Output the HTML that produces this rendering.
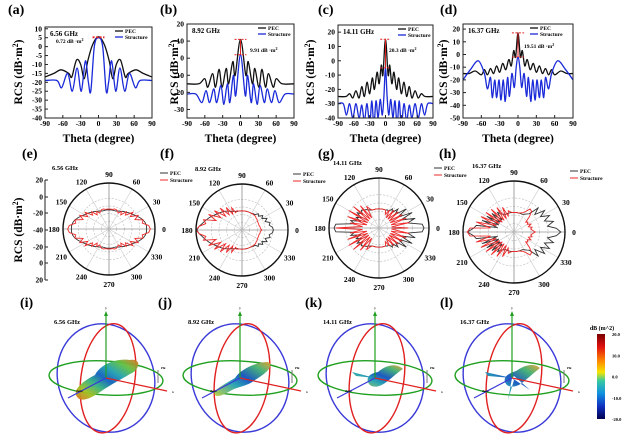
<!DOCTYPE html>
<html><head><meta charset="utf-8">
<style>
html,body{margin:0;padding:0;background:#fff;}
svg{display:block;font-family:"Liberation Serif",serif;font-weight:bold;}
</style></head>
<body>
<svg id="fig" width="639" height="442" viewBox="0 0 639 442" xmlns="http://www.w3.org/2000/svg">
<defs>
<linearGradient id="cbar" x1="0" y1="0" x2="0" y2="1">
<stop offset="0" stop-color="#7a0000"/><stop offset="0.15" stop-color="#e01010"/><stop offset="0.32" stop-color="#ff8a00"/><stop offset="0.45" stop-color="#f5e400"/><stop offset="0.55" stop-color="#38c9a0"/><stop offset="0.7" stop-color="#1090e0"/><stop offset="0.85" stop-color="#1030c0"/><stop offset="1" stop-color="#000050"/>
</linearGradient>
<linearGradient id="blobA" x1="0" y1="1" x2="1" y2="0">
<stop offset="0" stop-color="#e07020"/><stop offset="0.18" stop-color="#a0c020"/><stop offset="0.35" stop-color="#30b080"/><stop offset="0.5" stop-color="#1060c0"/><stop offset="0.65" stop-color="#20a0b0"/><stop offset="0.82" stop-color="#60c040"/><stop offset="1" stop-color="#e07020"/>
</linearGradient>
<linearGradient id="blobB" x1="0" y1="1" x2="1" y2="0">
<stop offset="0" stop-color="#c0d040"/><stop offset="0.35" stop-color="#20a0b0"/><stop offset="0.55" stop-color="#1050c0"/><stop offset="0.8" stop-color="#40b070"/><stop offset="1" stop-color="#e8a030"/>
</linearGradient>
</defs>
</svg>
<script>
// ---- data: top row (theta, dB) vertex pairs ----
const thetaTicks=[-90,-60,-30,0,30,60,90];
const aTicks=[10,5,0,-5,-10,-15,-20,-25,-30,-35,-40];
const bTicks=[20,10,0,-10,-20,-30];
const cTicks=[20,10,0,-10,-20,-30,-40];
const dTicks=[20,10,0,-10,-20,-30,-40,-50];
const aPECx=[-90,-75,-63,-50,-45,-37,-30,-24,-18,-10,0,10,18,24,30,37,45,50,63,75,90];
const aPECy=[-17,-15,-13,-15,-17,-7.5,-10,-18,-8,1,5.5,1,-8,-18,-10,-7.5,-17,-15,-13,-15,-17];
const aSTRx=[-90,-70,-62,-52,-44,-36,-29,-22,-17,-13,-7,0,7,13,17,22,29,36,44,52,62,70,90];
const aSTRy=[-19,-19,-23,-15,-25,-12,-25,-8,-20,-25,0,5,0,-25,-20,-8,-25,-12,-25,-15,-23,-19,-19];
const bPECx=[-90,-70,-60,-55,-47,-42,-36,-31,-24,-20,-13,-9,0,9,13,20,24,31,36,42,47,55,60,70,90];
const bPECy=[-15,-15,-12,-17,-9,-17,-6.5,-17,-6,-15,-2,-10,11,-10,-2,-15,-6,-17,-6.5,-17,-9,-17,-12,-15,-15];
const bSTRx=[-90,-75,-65,-58,-52,-45,-40,-33,-28,-22,-18,-12,-8,0,8,12,18,22,28,33,40,45,52,58,65,75,90];
const bSTRy=[-21,-21,-26,-19,-26,-18,-26,-16,-27,-15,-26,-10,-22,2,-22,-10,-26,-15,-27,-16,-26,-18,-26,-19,-26,-21,-21];
const cPECx=[-90,-75,-68,-62,-56,-50,-45,-40,-35,-30,-25,-21,-16,-12,-8,-5,0,5,8,12,16,21,25,30,35,40,45,50,56,62,68,75,90];
const cPECy=[-25,-25,-23,-26,-21,-26,-18,-25,-15,-23,-12,-20,-8,-16,-3,-10,15,-10,-3,-16,-8,-20,-12,-23,-15,-25,-18,-26,-21,-26,-23,-25,-25];
const cSTRx=[-90,-80,-74,-68,-62,-56,-50,-45,-40,-35,-30,-26,-22,-18,-14,-10,-6,-3,0,3,6,10,14,18,22,26,30,35,40,45,50,56,62,68,74,80,90];
const cSTRy=[-30,-30,-38,-30,-40,-30,-40,-31,-42,-30,-45,-28,-45,-28,-40,-27,-38,-25,-5,-25,-38,-27,-40,-28,-45,-28,-45,-30,-42,-31,-40,-30,-40,-30,-38,-30,-30];
const dPECx=[-90,-80,-70,-60,-55,-50,-45,-40,-35,-30,-25,-20,-15,-11,-7,-4,0,4,7,11,15,20,25,30,35,40,45,50,55,60,70,80,90];
const dPECy=[-15,-15,-13,-16,-12,-16,-11,-15,-9,-14,-7,-12,-4,-9,3,-2,17,-2,3,-9,-4,-12,-7,-14,-9,-15,-11,-16,-12,-16,-13,-15,-15];
const dSTRx=[-90,-78,-65,-55,-50,-45,-42,-38,-35,-31,-28,-24,-21,-17,-14,-10,-6,-3,0,3,6,10,14,17,21,24,28,31,35,38,42,45,50,55,65,78,90];
const dSTRy=[-20,-12,-5,-15,-27,-18,-34,-20,-34,-20,-36,-20,-37,-18,-33,-15,-26,-10,-2,-10,-26,-15,-33,-18,-37,-20,-36,-20,-34,-20,-34,-18,-27,-15,-5,-12,-20];
// ---- data: polar row, dB at angles 0..180 step 5 (mirrored below) ----
const polarTicks=[20,0,-20,-40];
const angleLabels=[0,30,60,90,120,150,180,210,240,270,300,330];
const ePEC=[9,9,8,6,3,0,-3,-5,-7,-9,-10,-12,-13,-14,-15,-15,-15,-15,-15,-15,-15,-15,-15,-14,-13,-12,-10,-9,-7,-5,-3,0,3,6,8,9,9];
const eSTR=[14,12,4,6,-4,2,-8,-2,-12,-8,-16,-12,-16,-14,-13,-13,-14,-14,-14,-14,-14,-13,-13,-14,-16,-12,-16,-8,-12,-2,-8,2,-4,6,4,12,14];
const fPEC=[1,0,-4,-2,-8,-4,-10,-7,-12,-10,-14,-14,-15,-15,-15,-15,-15,-15,-15,-15,-15,-15,-14,-13,-12,-10,-8,-6,-4,-2,0,3,6,9,12,16,19];
const fSTR=[-14,-16,-16,-17,-17,-17,-17,-16,-16,-15,-15,-15,-15,-15,-15,-15,-15,-15,-15,-15,-15,-14,-16,-8,-16,-4,-14,0,-12,4,-8,8,-4,12,8,16,20];
const gPEC=[14,12,-5,5,-12,4,-14,0,-15,-8,-16,-12,-17,-16,-17,-17,-17,-17,-17,-17,-17,-17,-17,-16,-15,-13,-12,-10,-14,-8,-15,-10,-16,-5,-10,12,14];
const gSTR=[-5,-25,-3,-25,-5,-25,-8,-25,-10,-25,-12,-25,-15,-22,-17,-17,-17,-17,-17,-17,-17,-17,-17,-15,-10,-25,-5,-25,0,-25,2,-25,0,-25,-5,-20,12];
const hPEC=[15,10,0,8,-2,6,-4,4,-8,0,-12,-14,-16,-17,-17,-17,-17,-17,-17,-17,-17,-17,-17,-17,-16,-14,-10,-20,-6,-20,-3,-20,0,-20,5,8,15];
const hSTR=[-15,-18,-20,-18,-22,-18,-22,-20,-22,-14,-8,-7,-12,-15,-16,-17,-17,-17,-17,-17,-16,-14,-20,-8,-22,-5,-22,-2,-22,0,-20,3,-18,6,-12,12,15];
// ---- colorbar ticks ----
const cbarTicks=[20,10,0,-10,-20];

const NS="http://www.w3.org/2000/svg";
const fig=document.getElementById('fig');
function el(tag,attrs,parent,txt){const e=document.createElementNS(NS,tag);for(const k in attrs)e.setAttribute(k,attrs[k]);if(txt!==undefined)e.textContent=txt;(parent||fig).appendChild(e);return e;}
function smoothPath(pts){let d='M'+pts[0][0].toFixed(1)+','+pts[0][1].toFixed(1);
 for(let i=0;i<pts.length-1;i++){const p0=pts[Math.max(0,i-1)],p1=pts[i],p2=pts[i+1],p3=pts[Math.min(pts.length-1,i+2)];
  const c1=[p1[0]+(p2[0]-p0[0])/6,p1[1]+(p2[1]-p0[1])/6],c2=[p2[0]-(p3[0]-p1[0])/6,p2[1]-(p3[1]-p1[1])/6];
  d+=' C'+c1[0].toFixed(1)+','+c1[1].toFixed(1)+' '+c2[0].toFixed(1)+','+c2[1].toFixed(1)+' '+p2[0].toFixed(1)+','+p2[1].toFixed(1);}
 return d;}

function lineChart(cfg){
 const g=el('g',{});
 
 
 const sx=t=>cfg.x0+(t+90)/180*(cfg.x1-cfg.x0);
 const sy=v=>cfg.y0+(cfg.ymax-v)/(cfg.ymax-cfg.ymin)*(cfg.y1-cfg.y0);
 const lab=el('text',{x:cfg.lx,y:14,'font-size':14},g,'('+cfg.id+')');
 
 
 const clip=el('clipPath',{id:'clip'+cfg.id},g);el('rect',{x:cfg.x0,y:cfg.y0,width:cfg.x1-cfg.x0,height:cfg.y1-cfg.y0},clip);
 const lines=el('g',{'clip-path':'url(#clip'+cfg.id+')'},g);
 const mk=(xs,ys,col,name)=>{const p=el('path',{d:smoothPath(xs.map((t,i)=>[sx(t),sy(ys[i])])),fill:'none',stroke:col,'stroke-width':1.3},lines);
  
  };
 mk(cfg.px,cfg.py,'#111','pec-line-'+cfg.id);
 mk(cfg.sxs,cfg.sys,'#1a2ad8','structure-line-'+cfg.id);
 const box=el('rect',{x:cfg.x0,y:cfg.y0,width:cfg.x1-cfg.x0,height:cfg.y1-cfg.y0,fill:'none',stroke:'#222','stroke-width':1},g);
 
 
 cfg.yt.forEach(v=>{const y=sy(v);el('line',{x1:cfg.x0,x2:cfg.x0+3,y1:y,y2:y,stroke:'#222'},g);
  const t=el('text',{x:cfg.x0-3,y:y+2.5,'font-size':7.5,'text-anchor':'end'},g,v);
  
  });
 thetaTicks.forEach(v=>{const x=sx(v);el('line',{x1:x,x2:x,y1:cfg.y1,y2:cfg.y1-3,stroke:'#222'},g);
  const t=el('text',{x:x,y:cfg.y1+8,'font-size':7.5,'text-anchor':'middle'},g,v);
  
  });
 const xt=el('text',{x:(cfg.x0+cfg.x1)/2,y:142,'font-size':11.5,'text-anchor':'middle'},g,'Theta (degree)');
 
 
 const yt=el('text',{x:0,y:0,'font-size':11.5,'text-anchor':'middle',transform:'translate('+cfg.ylx+',72) rotate(-90)'},g);
 yt.innerHTML='RCS (dB·m<tspan dy="-4" font-size="8">2</tspan><tspan dy="4">)</tspan>';
 
 
 const lg=el('g',{},g);
 
 
 el('line',{x1:cfg.legx,x2:cfg.legx+8,y1:cfg.y0+4,y2:cfg.y0+4,stroke:'#111','stroke-width':1.3},lg);
 el('text',{x:cfg.legx+10,y:cfg.y0+6,'font-size':5.5},lg,'PEC');
 el('line',{x1:cfg.legx,x2:cfg.legx+8,y1:cfg.y0+10,y2:cfg.y0+10,stroke:'#1a2ad8','stroke-width':1.3},lg);
 el('text',{x:cfg.legx+10,y:cfg.y0+12,'font-size':5.5},lg,'Structure');
 const fq=el('text',{x:cfg.x0+5,y:cfg.y0+9,'font-size':7},g,cfg.freq);
 
 
 const an=el('text',{x:cfg.ax,y:cfg.ay,'font-size':5.5},g);
 an.innerHTML=cfg.ann+' dB ·m<tspan dy="-2" font-size="4">2</tspan>';
 
 
 const pk=Math.max(...cfg.py), spk=Math.max(...cfg.sys);
 el('line',{x1:sx(-10),x2:sx(10),y1:sy(pk),y2:sy(pk),stroke:'#e02020','stroke-dasharray':'2,1.5'},g);
 el('line',{x1:sx(-10),x2:sx(10),y1:sy(spk),y2:sy(spk),stroke:'#e02020','stroke-dasharray':'2,1.5'},g);
 el('line',{x1:sx(0),x2:sx(0),y1:sy(pk),y2:sy(spk),stroke:'#e02020','stroke-width':1},g);
}
lineChart({id:'a',lx:8,x0:45,x1:152,y0:27,y1:118,ymin:-40,ymax:11,yt:aTicks,px:aPECx,py:aPECy,sxs:aSTRx,sys:aSTRy,ylx:22,legx:115,freq:'6.56 GHz',ann:'0.72',ax:56,ay:43});
lineChart({id:'b',lx:160,x0:187,x1:294,y0:24,y1:118,ymin:-35,ymax:20,yt:bTicks,px:bPECx,py:bPECy,sxs:bSTRx,sys:bSTRy,ylx:178,legx:258,freq:'8.92 GHz',ann:'9.91',ax:250,ay:52});
lineChart({id:'c',lx:318,x0:338,x1:433,y0:25,y1:118,ymin:-40,ymax:25,yt:cTicks,px:cPECx,py:cPECy,sxs:cSTRx,sys:cSTRy,ylx:314,legx:398,freq:'14.11 GHz',ann:'20.3',ax:389,ay:52});
lineChart({id:'d',lx:440,x0:463,x1:573,y0:24,y1:118,ymin:-50,ymax:24,yt:dTicks,px:dPECx,py:dPECy,sxs:dSTRx,sys:dSTRy,ylx:447,legx:530,freq:'16.37 GHz',ann:'19.51',ax:524,ay:48});

// ---- polar charts ----
function polarChart(cfg){
 const g=el('g',{});
 
 
 const R=cfg.r, cx=cfg.cx, cy=cfg.cy;
 const rr=v=>Math.max(0,(v+40)/60*R);
 const lab=el('text',{x:cfg.lx,y:158,'font-size':14},g,'('+cfg.id+')');
 
 
 [0,-20,-30,-10].forEach(v=>el('circle',{cx:cx,cy:cy,r:rr(v),fill:'none',stroke:'#bbb','stroke-width':0.6,'stroke-dasharray':'2,1.5'},g));
 for(let a=0;a<360;a+=30){const t=a*Math.PI/180;el('line',{x1:cx,y1:cy,x2:cx+R*Math.cos(t),y2:cy-R*Math.sin(t),stroke:a%90==0?'#666':'#ccc','stroke-width':0.6},g);}
 const draw=(vals,col,name)=>{const pts=[];
  vals.forEach((v,i)=>{const t=i*5*Math.PI/180;pts.push([cx+rr(v)*Math.cos(t),cy-rr(v)*Math.sin(t)]);});
  for(let i=vals.length-2;i>0;i--){const t=-i*5*Math.PI/180;pts.push([cx+rr(vals[i])*Math.cos(t),cy-rr(vals[i])*Math.sin(t)]);}
  const p=el('polygon',{points:pts.map(p=>p[0].toFixed(1)+','+p[1].toFixed(1)).join(' '),fill:'none',stroke:col,'stroke-width':0.9},g);
  
  };
 draw(cfg.pec,'#333','pec-pattern-'+cfg.id);
 draw(cfg.str,'#ee2a2a','structure-pattern-'+cfg.id);
 el('circle',{cx:cx,cy:cy,r:R,fill:'none',stroke:'#111','stroke-width':1.4},g);
 angleLabels.forEach(a=>{const t=a*Math.PI/180;const t2=el('text',{x:cx+(R+9)*Math.cos(t),y:cy-(R+9)*Math.sin(t)+3,'font-size':7.5,'text-anchor':'middle'},g,a);
  
  });
 const fq=el('text',{x:cfg.fx,y:cy-R-13,'font-size':6.5},g,cfg.freq);
 
 
 const lg=el('g',{},g);
 
 
 el('line',{x1:cx+R+5,x2:cx+R+13,y1:cy-R-10,y2:cy-R-10,stroke:'#333'},lg);
 el('text',{x:cx+R+15,y:cy-R-8,'font-size':5.5},lg,'PEC');
 el('line',{x1:cx+R+5,x2:cx+R+13,y1:cy-R-3,y2:cy-R-3,stroke:'#ee2a2a'},lg);
 el('text',{x:cx+R+15,y:cy-R-1,'font-size':5.5},lg,'Structure');
}
polarChart({id:'e',lx:22,cx:109,cy:229,r:46,pec:ePEC,str:eSTR,freq:'6.56 GHz',fx:52});
polarChart({id:'f',lx:160,cx:242,cy:230,r:46,pec:fPEC,str:fSTR,freq:'8.92 GHz',fx:195});
polarChart({id:'g',lx:318,cx:379,cy:228,r:50,pec:gPEC,str:gSTR,freq:'14.11 GHz',fx:333});
polarChart({id:'h',lx:439,cx:514,cy:232,r:51,pec:hPEC,str:hSTR,freq:'16.37 GHz',fx:472});

// polar radial axis (e)
(function(){const g=el('g',{});
 
 
 el('line',{x1:45,x2:45,y1:180,y2:280,stroke:'#222'},g);
 const ys=[180,197,213,230,247,263,280];
 const labs=[polarTicks[0],polarTicks[1],polarTicks[2],polarTicks[3],polarTicks[2],polarTicks[1],polarTicks[0]];
 ys.forEach((y,i)=>{el('line',{x1:45,x2:48,y1:y,y2:y,stroke:'#222'},g);el('text',{x:43,y:y+2.5,'font-size':7.5,'text-anchor':'end'},g,labs[i]);});
 const yt=el('text',{x:0,y:0,'font-size':11.5,'text-anchor':'middle',transform:'translate(22,230) rotate(-90)'},g);
 yt.innerHTML='RCS (dB·m<tspan dy="-4" font-size="8">2</tspan><tspan dy="4">)</tspan>';
 
 })();

// ---- 3D panels ----
function panel3d(cfg){
 const g=el('g',{});
 
 
 const cx=cfg.cx, cy=378;
 const lab=el('text',{x:cfg.lx,y:307,'font-size':14},g,'('+cfg.id+')');
 
 
 const fq=el('text',{x:cx-52,y:324,'font-size':6.5},g,cfg.freq);
 
 
 el('ellipse',{cx:cx,cy:cy,rx:48,ry:55,fill:'none',stroke:'#3a3ad8','stroke-width':1.4,transform:'rotate(-20 '+cx+' '+cy+')'},g);
 el('ellipse',{cx:cx+2,cy:cy,rx:27,ry:55,fill:'none',stroke:'#e02020','stroke-width':1.4,transform:'rotate(8 '+cx+' '+cy+')'},g);
 el('ellipse',{cx:cx,cy:cy,rx:57,ry:17,fill:'none',stroke:'#20a020','stroke-width':1.4,transform:'rotate(3 '+cx+' '+cy+')'},g);
 const blob=el('path',{d:cfg.blob,fill:cfg.fill,stroke:'none',opacity:0.95},g);
 
 
 el('line',{x1:cx,y1:cy,x2:cx,y2:313,stroke:'#20a020','stroke-width':1.2},g);
 el('path',{d:'M'+(cx-2)+',316 L'+cx+',311 L'+(cx+2)+',316Z',fill:'#20a020'},g);
 el('text',{x:cx,y:309,'font-size':3.5,'text-anchor':'middle'},g,'y');
 el('line',{x1:cx,y1:cy,x2:cx+61,y2:cy+13,stroke:'#e02020','stroke-width':1.2},g);
 el('text',{x:cx+66,y:cy+15,'font-size':3.5},g,'x');
 el('line',{x1:cx,y1:cy,x2:cx-38,y2:cy+20,stroke:'#3a3ad8','stroke-width':1.2},g);
 el('text',{x:cx-30,y:cy+14,'font-size':3},g,'theta');
 el('line',{x1:cx+52,y1:cy+5,x2:cx+52,y2:cy-8,stroke:'#777','stroke-width':1},g);
 el('text',{x:cx+55,y:cy-9,'font-size':3},g,'Phi');
}
panel3d({id:'i',lx:20,cx:106,freq:'6.56 GHz',fill:'url(#blobA)',blob:'M78,398 C70,390 85,380 95,375 C100,365 115,358 130,360 C142,358 140,370 130,374 C120,380 110,385 100,392 C92,398 82,402 78,398Z'});
panel3d({id:'j',lx:158,cx:240,freq:'8.92 GHz',fill:'url(#blobB)',blob:'M215,395 C212,390 225,384 235,378 C240,370 255,362 268,362 C275,366 265,374 255,380 C248,386 240,386 232,390 C225,394 218,398 215,395Z'});
panel3d({id:'k',lx:305,cx:375,freq:'14.11 GHz',fill:'url(#blobB)',blob:'M368,382 C366,376 372,373 378,372 C385,366 395,362 403,369 C398,372 392,378 385,383 C378,388 370,388 368,382Z M352,372 L375,378 L356,376Z'});
panel3d({id:'l',lx:440,cx:512,freq:'16.37 GHz',fill:'url(#blobB)',blob:'M505,382 C503,376 510,373 516,371 C523,366 533,362 540,368 C535,372 528,378 522,383 C515,388 507,388 505,382Z M485,372 L512,378 L488,376Z M512,378 L508,400 L514,380Z M512,378 L530,390 L514,376Z'});

// ---- colorbar ----
(function(){const g=el('g',{});
 
 
 el('rect',{x:597,y:334,width:8,height:85,fill:'url(#cbar)'},g);
 el('text',{x:602,y:330,'font-size':6,'text-anchor':'middle'},g,'dB (m^2)');
 cbarTicks.forEach((v,i)=>{const y=334+(20-v)/40*85;el('text',{x:612,y:y+2,'font-size':4.5},g,v.toFixed(1));});})();
</script>
</body></html>
